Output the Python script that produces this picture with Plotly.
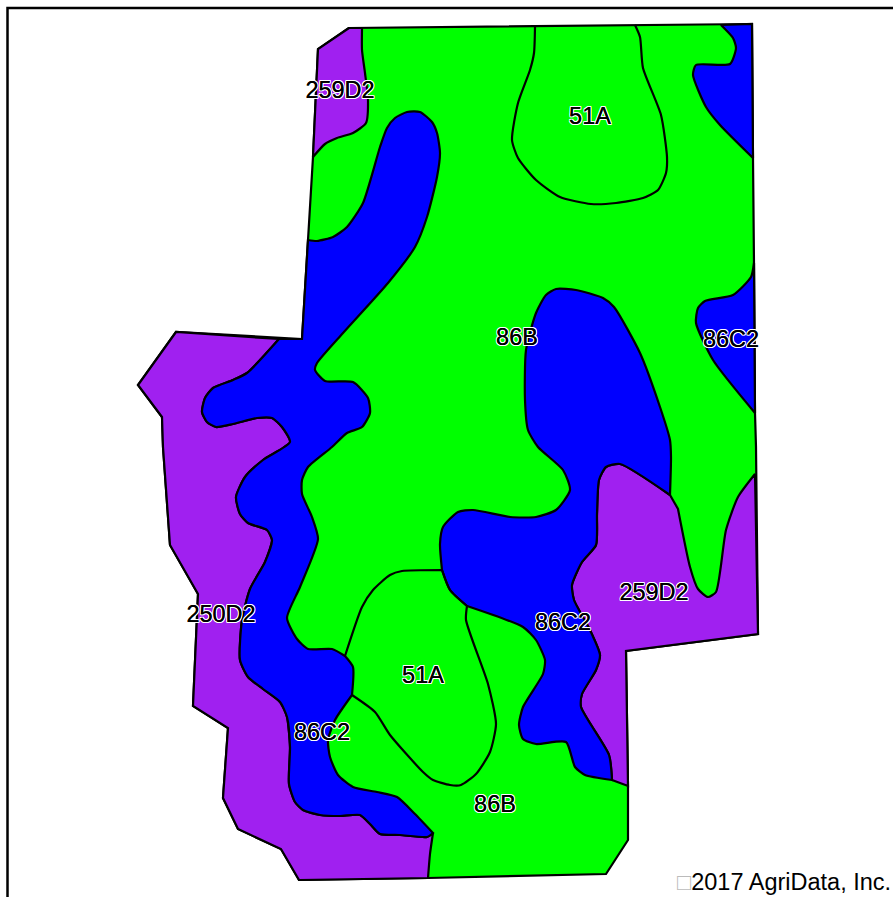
import plotly.graph_objects as go

FIELD = [(349,28),(318,49),(313,157),(308,240),(302,339),(176,332),(138,385),(162,417),(163,447),(170,545),(198,594),(193,706),(228,728),(223,798),(238,829),(281,849),(299,880),(428,878),(606,874),(628,840),(628,786),(626,651),(758,634),(756,447),(755,413),(754,263),(753,158),(752,24)]

PURPLE_TOP = [(349,28),(318,49),(313,157),(325,144),(337,138),(353,133),(366,123),(368,100),(365,73),(362,50),(362,28)]

BLUE_LEFT_EDGE = [(279,339),(247,373),(233,380),(213,388),(205,398),(202,412),(207,422),(216,427),(233,424),(257,418),(272,418),(282,427),(290,442),(263,460),(245,477),(236,497),(240,514),(248,523),(267,530),(272,540),(265,562),(250,589),(242,620),(240,660),(248,677),(263,689),(280,702),(287,717),(290,747),(289,784),(295,802),(303,810),(320,815),(340,816),(360,815),(370,824),(380,834),(400,835),(427,837),(433,833)]

PURPLE_LEFT = [(279,339),(176,332),(138,385),(162,417),(163,447),(170,545),(198,594),(193,706),(228,728),(223,798),(238,829),(281,849),(299,880),(428,878),(430,854),(433,833)] + BLUE_LEFT_EDGE[::-1]

BLUE_LEFT = [(308,240),(302,339)] + BLUE_LEFT_EDGE + [(415,814),(397,797),(377,792),(353,787),(338,775),(330,757),(328,740),(335,720),(352,695),(353,667),(345,656),(332,649),(308,649),(297,639),(287,618),(300,587),(318,539),(312,517),(302,494),(302,480),(308,467),(332,447),(347,433),(362,427),(370,413),(368,398),(353,382),(325,381),(315,370),(317,363),(343,333),(388,283),(415,247),(427,217),(437,177),(440,153),(437,133),(432,122),(420,112),(407,112),(395,118),(387,128),(380,147),(363,203),(347,227),(333,237),(317,241)]

BLUE_MID_EDGE = [(670,495),(620,464),(606,467),(599,480),(597,514),(596,545),(582,562),(572,585),(574,600),(590,630),(600,655),(596,670),(582,694),(581,707),(609,755),(612,780)]

BLUE_MID = [(556,289),(576,290),(603,298),(614,307),(640,353),(660,407),(670,440),(671,457)] + BLUE_MID_EDGE + [(585,775),(575,767),(566,742),(536,744),(523,739),(519,725),(523,707),(543,674),(545,660),(536,640),(523,627),(467,606),(450,590),(442,570),(440,544),(443,527),(458,512),(473,510),(510,517),(536,517),(556,510),(570,490),(563,470),(538,447),(528,430),(525,400),(526,350),(536,313),(546,295)]

PURPLE_RIGHT = BLUE_MID_EDGE + [(628,786),(626,651),(758,634),(755,474),(738,497),(726,530),(716,592),(708,597),(698,589),(690,567),(678,509)]

BLUE_TOPRIGHT = [(721,25),(733,38),(736,48),(730,64),(696,65),(693,75),(706,107),(720,125),(753,158),(752,24)]
BLUE_RIGHT = [(754,263),(751,277),(733,295),(705,301),(698,308),(696,323),(713,360),(755,413)]

LINE_51A_TOP = [(535,27),(534,53),(530,70),(518,103),(512,140),(518,158),(536,180),(560,197),(591,204),(616,203),(643,198),(658,190),(666,173),(667,157),(661,115),(643,68),(640,37),(635,25)]
LINE_51A_BOTTOM = [(345,656),(362,607),(373,590),(390,575),(402,571),(442,570),(450,590),(467,606),(466,620),(488,684),(496,724),(490,752),(476,774),(461,785),(450,785),(433,780),(423,772),(390,735),(375,712),(352,695)]

# Vertices where the outline keeps a hard corner instead of a smooth curve
JUNCTIONS = [(279,339),(433,833),(670,495),(612,780),(352,695),(345,656),(442,570),(467,606),(721,25),(362,28),(755,474),(678,509),(628,786)]

FRAME_X = [7.5, 7.5, 893]
FRAME_Y = [897, 8, 8]

LABELS = ["259D2", "51A", "86B", "86C2", "250D2", "259D2", "86C2", "51A", "86C2", "86B"]
LABEL_X = [340, 590, 517, 731, 221, 654, 563, 423, 322, 495]
LABEL_Y = [92, 118, 339, 341, 616, 594, 624, 677, 734, 806]

GREEN, BLUE, PURPLE = "#00FF00", "#0000FF", "#A020F0"
FONT = "Liberation Sans, Arial, sans-serif"
HALO = "0 0 0.6px #000," + ",".join(f"{a}px {b}px 0.4px #fff" for a in (-1, 0, 1) for b in (-1, 0, 1) if a or b)

SHARP = set(FIELD) | set(JUNCTIONS)
LINE = dict(color="black", width=2.2, shape="spline", smoothing=0.6, simplify=False)

fig = go.Figure()

def sharpen(points):
    out = []
    for p in points:
        out.append(p)
        if p in SHARP:
            out.append(p)
    return out

def poly(points, fill):
    pts = sharpen(points + [points[0]])
    fig.add_trace(go.Scatter(x=[p[0] for p in pts], y=[p[1] for p in pts], mode="lines",
                             fill="toself", fillcolor=fill, line=LINE, hoverinfo="skip"))

def stroke(points):
    pts = sharpen(points)
    fig.add_trace(go.Scatter(x=[p[0] for p in pts], y=[p[1] for p in pts], mode="lines",
                             line=LINE, hoverinfo="skip"))

poly(FIELD, GREEN)
for shape, colour in [(PURPLE_TOP, PURPLE), (PURPLE_LEFT, PURPLE), (PURPLE_RIGHT, PURPLE),
                      (BLUE_LEFT, BLUE), (BLUE_MID, BLUE), (BLUE_TOPRIGHT, BLUE), (BLUE_RIGHT, BLUE)]:
    poly(shape, colour)
stroke(LINE_51A_TOP)
stroke(LINE_51A_BOTTOM)
fig.add_trace(go.Scatter(x=FRAME_X, y=FRAME_Y, mode="lines", line=dict(color="black", width=2.5), hoverinfo="skip"))

fig.add_trace(go.Scatter(x=LABEL_X, y=LABEL_Y, mode="text", text=LABELS, textposition="middle center",
                         textfont=dict(family=FONT, size=23.5, color="black", shadow=HALO), hoverinfo="skip"))

fig.add_annotation(x=675, y=882, xref="x", yref="y", xanchor="left", yanchor="middle", showarrow=False,
                   text='<span style="color:#bbbbbb">□</span>2017 AgriData, Inc.',
                   font=dict(family=FONT, size=23.5, color="black"))

fig.update_layout(width=893, height=897, autosize=False, showlegend=False,
                  margin=dict(l=0, r=0, t=0, b=0), paper_bgcolor="white", plot_bgcolor="white",
                  xaxis=dict(range=[0, 893], visible=False, fixedrange=True),
                  yaxis=dict(range=[897, 0], visible=False, fixedrange=True))

fig.write_html("out.html", config={"displayModeBar": False},
               post_script="document.body.style.margin='0';document.body.style.overflow='hidden';")
